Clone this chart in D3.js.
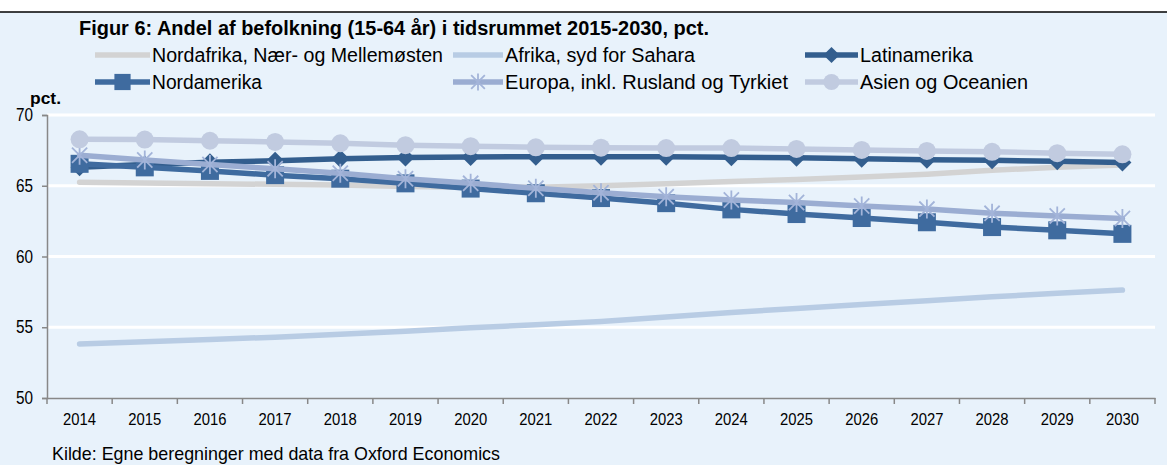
<!DOCTYPE html>
<html>
<head>
<meta charset="utf-8">
<script src="https://cdn.jsdelivr.net/npm/d3@7"></script>
<style>
  html, body { margin: 0; padding: 0; background: #ffffff; }
  svg { display: block; }
  text { font-family: "Liberation Sans", Arial, sans-serif; fill: #000; }
</style>
</head>
<body>
<svg id="chart" width="1167" height="465"></svg>
<script>
// ---- Data ----
const years = ["2014","2015","2016","2017","2018","2019","2020","2021","2022","2023","2024","2025","2026","2027","2028","2029","2030"];
const nordafrika  = [65.25, 65.2, 65.15, 65.1, 65.05, 64.95, 64.9, 64.9, 65.0, 65.15, 65.3, 65.45, 65.62, 65.82, 66.1, 66.3, 66.47];
const afrikaSyd   = [53.82, 53.98, 54.14, 54.3, 54.5, 54.72, 54.97, 55.18, 55.4, 55.72, 56.05, 56.33, 56.6, 56.88, 57.15, 57.4, 57.63];
const latinamerika= [66.3, 66.5, 66.66, 66.77, 66.9, 67.0, 67.04, 67.05, 67.05, 67.05, 67.02, 66.98, 66.9, 66.83, 66.8, 66.73, 66.64];
const nordamerika = [66.55, 66.3, 66.05, 65.75, 65.5, 65.17, 64.8, 64.47, 64.13, 63.77, 63.33, 63.0, 62.72, 62.42, 62.08, 61.85, 61.6];
const europa      = [67.15, 66.82, 66.5, 66.2, 65.88, 65.5, 65.17, 64.82, 64.5, 64.22, 63.99, 63.82, 63.57, 63.35, 63.05, 62.87, 62.68];
const asien       = [68.28, 68.26, 68.18, 68.1, 68.0, 67.87, 67.8, 67.72, 67.69, 67.66, 67.66, 67.6, 67.53, 67.46, 67.4, 67.3, 67.22];
const seriesNames = ["Nordafrika, Nær- og Mellemøsten", "Afrika, syd for Sahara", "Latinamerika", "Nordamerika", "Europa, inkl. Rusland og Tyrkiet", "Asien og Oceanien"];
const yTicks = [50, 55, 60, 65, 70];
const titleText = "Figur 6: Andel af befolkning (15-64 år) i tidsrummet 2015-2030, pct.";
const yLabel = "pct.";
const sourceText = "Kilde: Egne beregninger med data fra Oxford Economics";

// ---- Styles ----
const styles = [
  { color: "#d3d3d3", marker: null,       mColor: null },
  { color: "#b8cce4", marker: null,       mColor: null },
  { color: "#335e8e", marker: "diamond",  mColor: "#335e8e" },
  { color: "#3f6b9f", marker: "square",   mColor: "#3f6b9f" },
  { color: "#9badd2", marker: "asterisk", mColor: "#a3b4d9" },
  { color: "#c1cbe0", marker: "circle",   mColor: "#c1cbe0" }
];
const seriesData = [nordafrika, afrikaSyd, latinamerika, nordamerika, europa, asien];

const svg = d3.select("#chart");
const W = 1167, H = 465;

// condense text to a target width (narrow-font look)
function fitText(sel, targetWidth) {
  sel.attr("textLength", targetWidth).attr("lengthAdjust", "spacingAndGlyphs");
  return sel;
}

// background
svg.append("rect").attr("x", 0).attr("y", 0).attr("width", W).attr("height", H).attr("fill", "#ffffff");
svg.append("rect").attr("x", 0).attr("y", 12).attr("width", W).attr("height", H - 12).attr("fill", "#e8f2fb");
svg.append("line").attr("x1", 0).attr("x2", W).attr("y1", 12).attr("y2", 12).attr("stroke", "#000").attr("stroke-width", 1.5);

const plot = { left: 47, right: 1155, top: 115, bottom: 398 };
const x = d3.scaleBand().domain(years).range([plot.left, plot.right]).paddingInner(0).paddingOuter(0);
const y = d3.scaleLinear().domain([50, 70]).range([plot.bottom, plot.top]);
const cx = d => x(d) + x.bandwidth() / 2;

// gridlines
svg.append("g").selectAll("line").data(yTicks.filter(v => v > 50)).join("line")
  .attr("x1", plot.left).attr("x2", plot.right)
  .attr("y1", d => y(d)).attr("y2", d => y(d))
  .attr("stroke", "#ffffff").attr("stroke-width", 3);

// Y axis
const yAxis = svg.append("g").attr("transform", `translate(${plot.left},0)`)
  .call(d3.axisLeft(y).tickValues(yTicks).tickSize(5).tickPadding(9));
yAxis.select(".domain").attr("stroke", "#888").attr("stroke-width", 1.5);
yAxis.selectAll(".tick line").attr("stroke", "#888").attr("stroke-width", 1.5);
yAxis.selectAll(".tick text").attr("font-size", 17.5).attr("fill", "#000")
  .attr("textLength", 17).attr("lengthAdjust", "spacingAndGlyphs")
  .style("font-family", "'Liberation Sans', Arial, sans-serif");

// X axis
const xAxis = svg.append("g").attr("transform", `translate(0,${plot.bottom})`)
  .call(d3.axisBottom(x).tickSize(0).tickPadding(15));
xAxis.select(".domain").attr("stroke", "#888").attr("stroke-width", 1.5);
xAxis.selectAll(".tick text").attr("font-size", 17).attr("fill", "#000")
  .attr("textLength", 33).attr("lengthAdjust", "spacingAndGlyphs")
  .style("font-family", "'Liberation Sans', Arial, sans-serif");
const boundaries = years.map(d => x(d)).concat([x(years[years.length - 1]) + x.bandwidth()]);
svg.append("g").selectAll("line").data(boundaries).join("line")
  .attr("x1", d => d).attr("x2", d => d)
  .attr("y1", plot.bottom).attr("y2", plot.bottom + 6)
  .attr("stroke", "#888").attr("stroke-width", 1.5);

// marker drawing
function drawMarker(g, type, color, px, py, scale) {
  const s = scale || 1;
  if (type === "circle") {
    g.append("circle").attr("cx", px).attr("cy", py).attr("r", 9 * s).attr("fill", color);
  } else if (type === "square") {
    g.append("rect").attr("x", px - 9 * s).attr("y", py - 9 * s).attr("width", 18 * s).attr("height", 18 * s).attr("fill", color);
  } else if (type === "diamond") {
    const r = 9 * s;
    g.append("path").attr("d", `M${px},${py - r}L${px + r},${py}L${px},${py + r}L${px - r},${py}Z`).attr("fill", color);
  } else if (type === "asterisk") {
    const r = 9.5 * s;
    const p = d3.path();
    p.moveTo(px, py - r); p.lineTo(px, py + r);
    p.moveTo(px - r * 0.8, py - r * 0.8); p.lineTo(px + r * 0.8, py + r * 0.8);
    p.moveTo(px + r * 0.8, py - r * 0.8); p.lineTo(px - r * 0.8, py + r * 0.8);
    g.append("path").attr("d", p.toString()).attr("stroke", color).attr("stroke-width", 1.8).attr("fill", "none");
  }
}

// series
const line = d3.line().x((d, i) => cx(years[i])).y(d => y(d));
seriesData.forEach((vals, si) => {
  const st = styles[si];
  const g = svg.append("g");
  g.append("path").attr("d", line(vals)).attr("fill", "none")
    .attr("stroke", st.color).attr("stroke-width", 5.5)
    .attr("stroke-linecap", "round").attr("stroke-linejoin", "round");
  if (st.marker) {
    vals.forEach((v, i) => drawMarker(g, st.marker, st.mColor, cx(years[i]), y(v)));
  }
});

// title
fitText(svg.append("text").attr("x", 79).attr("y", 35).attr("font-size", 19.5).attr("font-weight", "bold").text(titleText), 630);

// legend
const legendPos = [
  { x: 95,  y: 55, len: 55, w: 291 }, { x: 453, y: 55, len: 50, w: 190 }, { x: 805, y: 55, len: 53, w: 113 },
  { x: 95,  y: 82, len: 55, w: 110 }, { x: 453, y: 82, len: 50, w: 283 }, { x: 805, y: 82, len: 53, w: 168 }
];
seriesNames.forEach((name, si) => {
  const p = legendPos[si];
  const st = styles[si];
  const g = svg.append("g");
  g.append("line").attr("x1", p.x).attr("x2", p.x + p.len).attr("y1", p.y).attr("y2", p.y)
    .attr("stroke", st.color).attr("stroke-width", 5.5);
  if (st.marker) drawMarker(g, st.marker, st.mColor, p.x + p.len / 2, p.y, 0.9);
  const t = g.append("text").attr("x", p.x + p.len + 2).attr("y", p.y + 7).attr("font-size", 19.5).text(name);
  fitText(t, p.w);
});

// y label
fitText(svg.append("text").attr("x", 30).attr("y", 104).attr("font-size", 16.5).attr("font-weight", "bold").text(yLabel), 31);

// source
fitText(svg.append("text").attr("x", 52).attr("y", 460).attr("font-size", 18.5).text(sourceText), 448);
</script>
</body>
</html>
